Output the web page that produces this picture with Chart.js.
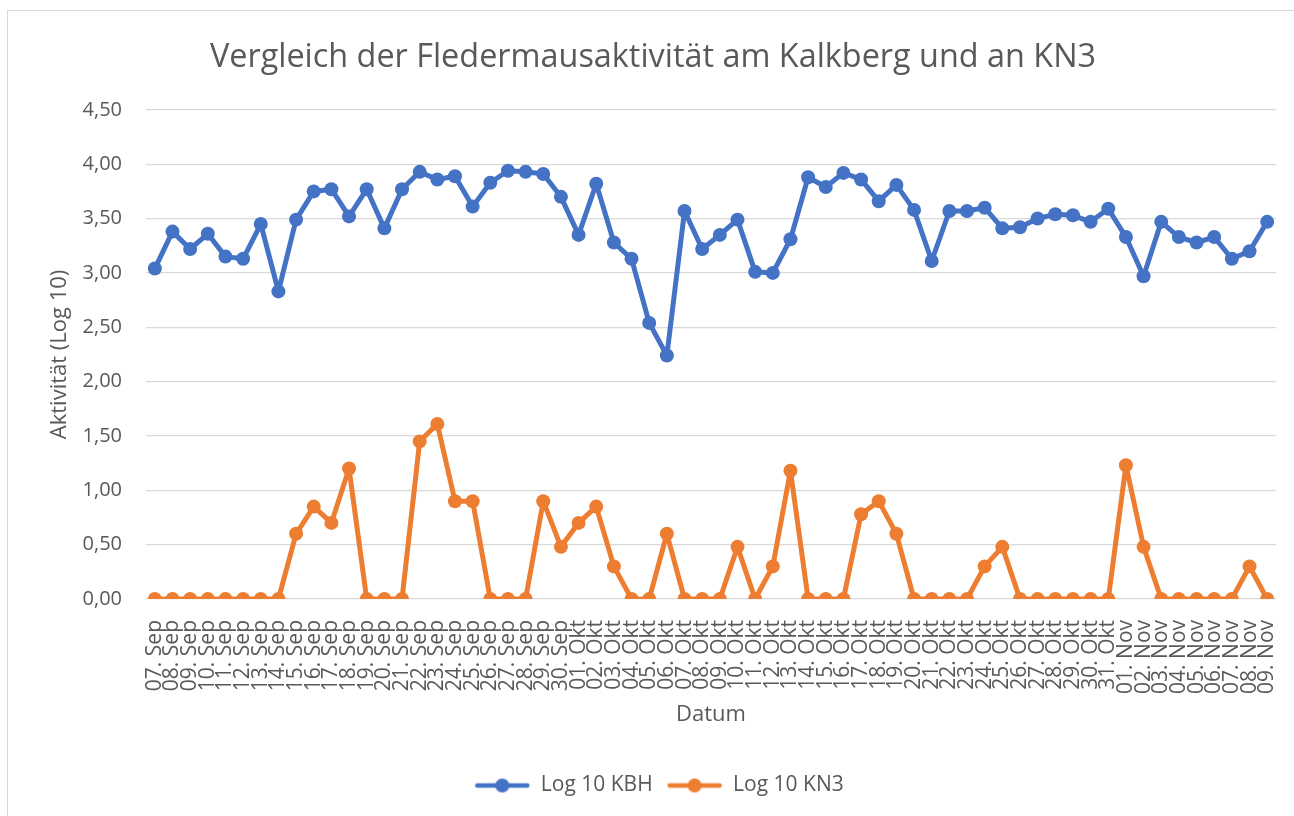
<!DOCTYPE html>
<html>
<head>
<meta charset="utf-8">
<script src="https://cdn.jsdelivr.net/npm/chart.js@4.4.0/dist/chart.umd.min.js"></script>
<style>
  html, body { margin: 0; padding: 0; background: #fff; }
  #frame {
    position: absolute; left: 7px; top: 10px;
    width: 1300px; height: 820px;
    border: 1px solid #d9d9d9;
  }
  #chart { position: absolute; left: 0; top: 0; }
</style>
</head>
<body>
<div id="frame"></div>
<canvas id="chart" width="1294" height="816"></canvas>
<script>
const dateLabels = [
  "07. Sep", "08. Sep", "09. Sep", "10. Sep", "11. Sep", "12. Sep", "13. Sep", "14. Sep",
  "15. Sep", "16. Sep", "17. Sep", "18. Sep", "19. Sep", "20. Sep", "21. Sep", "22. Sep",
  "23. Sep", "24. Sep", "25. Sep", "26. Sep", "27. Sep", "28. Sep", "29. Sep", "30. Sep",
  "01. Okt", "02. Okt", "03. Okt", "04. Okt", "05. Okt", "06. Okt", "07. Okt", "08. Okt",
  "09. Okt", "10. Okt", "11. Okt", "12. Okt", "13. Okt", "14. Okt", "15. Okt", "16. Okt",
  "17. Okt", "18. Okt", "19. Okt", "20. Okt", "21. Okt", "22. Okt", "23. Okt", "24. Okt",
  "25. Okt", "26. Okt", "27. Okt", "28. Okt", "29. Okt", "30. Okt", "31. Okt",
  "01. Nov", "02. Nov", "03. Nov", "04. Nov", "05. Nov", "06. Nov", "07. Nov", "08. Nov", "09. Nov",
];

// Log 10 KBH (Kalkberg)
const kbhValues = [
  3.04, 3.38, 3.22, 3.36, 3.15, 3.13, 3.45, 2.83, 3.49, 3.75, 3.77, 3.52, 3.77, 3.41, 3.77, 3.93,
  3.86, 3.89, 3.61, 3.83, 3.94, 3.93, 3.91, 3.70,
  3.35, 3.82, 3.28, 3.13, 2.54, 2.24, 3.57, 3.22, 3.35, 3.49, 3.01, 3.00, 3.31, 3.88, 3.79, 3.92,
  3.86, 3.66, 3.81, 3.58, 3.11, 3.57, 3.57, 3.60, 3.41, 3.42, 3.50, 3.54, 3.53, 3.47, 3.59,
  3.33, 2.97, 3.47, 3.33, 3.28, 3.33, 3.13, 3.20, 3.47,
];

// Log 10 KN3
const kn3Values = [
  0, 0, 0, 0, 0, 0, 0, 0, 0.60, 0.85, 0.70, 1.20, 0, 0, 0, 1.45,
  1.61, 0.90, 0.90, 0, 0, 0, 0.90, 0.48,
  0.70, 0.85, 0.30, 0, 0, 0.60, 0, 0, 0, 0.48, 0, 0.30, 1.18, 0, 0, 0,
  0.78, 0.90, 0.60, 0, 0, 0, 0, 0.30, 0.48, 0, 0, 0, 0, 0, 0,
  1.23, 0.48, 0, 0, 0, 0, 0, 0.30, 0,
];

const yTicks = [0, 0.5, 1, 1.5, 2, 2.5, 3, 3.5, 4, 4.5];

const blue = "#4472C4";
const orange = "#ED7D31";
const textColor = "#595959";
const fontFamily = "'Open Sans', 'Noto Sans', sans-serif";

// Legend symbol: short line with a dot in the middle
function legendSymbol(color) {
  const c = document.createElement("canvas");
  c.width = 56;
  c.height = 16;
  const g = c.getContext("2d");
  g.strokeStyle = color;
  g.lineWidth = 4.5;
  g.lineCap = "round";
  g.beginPath();
  g.moveTo(3, 8);
  g.lineTo(53, 8);
  g.stroke();
  g.fillStyle = color;
  g.beginPath();
  g.arc(28, 8, 7, 0, Math.PI * 2);
  g.fill();
  return c;
}
const symbols = [legendSymbol(blue), legendSymbol(orange)];

// Center the legend on the whole canvas instead of the padded area
const legendShift = {
  id: "legendShift",
  afterLayout(chart) {
    if (chart.legend) {
      chart.legend.left += 6;
      chart.legend.right += 6;
    }
  },
};

Chart.defaults.font.family = fontFamily;
Chart.defaults.color = textColor;

const ctx = document.getElementById("chart").getContext("2d");
new Chart(ctx, {
  type: "line",
  data: {
    labels: dateLabels,
    datasets: [
      {
        label: "Log 10 KBH",
        data: kbhValues,
        borderColor: blue,
        backgroundColor: blue,
        borderWidth: 5,
        borderJoinStyle: "round",
        borderCapStyle: "round",
        pointRadius: 7,
        pointBorderWidth: 0,
        tension: 0,
      },
      {
        label: "Log 10 KN3",
        data: kn3Values,
        borderColor: orange,
        backgroundColor: orange,
        borderWidth: 5,
        borderJoinStyle: "round",
        borderCapStyle: "round",
        pointRadius: 7,
        pointBorderWidth: 0,
        tension: 0,
      },
    ],
  },
  options: {
    responsive: false,
    animation: false,
    devicePixelRatio: 1,
    layout: {
      padding: { left: 30, right: 18, top: 0, bottom: 10 },
    },
    scales: {
      x: {
        offset: true,
        grid: { display: false },
        border: { display: false },
        ticks: {
          autoSkip: false,
          maxRotation: 90,
          minRotation: 90,
          padding: 13,
          color: textColor,
          font: { size: 21 },
        },
        title: {
          display: true,
          text: "Datum",
          color: textColor,
          font: { size: 22 },
          padding: { top: 0, bottom: 33 },
        },
        afterFit: function (scale) {
          scale.height = 162;
          // the rotated end labels sit inside the offset band, no extra room needed
          scale.paddingLeft = 0;
          scale.paddingRight = 0;
        },
      },
      y: {
        min: 0,
        max: 4.5,
        afterBuildTicks: function (scale) {
          scale.ticks = yTicks.map((v) => ({ value: v }));
        },
        grid: {
          color: "#d9d9d9",
          lineWidth: 1.3,
          drawTicks: false,
        },
        border: { display: false },
        ticks: {
          padding: 24,
          color: textColor,
          font: { size: 20 },
          callback: function (value) {
            return value.toFixed(2).replace(".", ",");
          },
        },
        title: {
          display: true,
          text: "Aktivität (Log 10)",
          color: textColor,
          font: { size: 22 },
          padding: { top: 17, bottom: 0 },
        },
        afterFit: function (scale) {
          scale.width = 116;
        },
      },
    },
    plugins: {
      title: {
        display: true,
        text: "Vergleich der Fledermausaktivität am Kalkberg und an KN3",
        color: textColor,
        font: { size: 32.4, weight: "normal" },
        padding: { top: 38, bottom: 33 },
      },
      legend: {
        position: "bottom",
        labels: {
          usePointStyle: true,
          pointStyleWidth: 56,
          boxHeight: 16,
          padding: 14,
          color: textColor,
          font: { size: 21 },
          generateLabels: function (chart) {
            const items = Chart.defaults.plugins.legend.labels.generateLabels(chart);
            items.forEach((item, i) => {
              item.pointStyle = symbols[i];
            });
            return items;
          },
        },
      },
      tooltip: { enabled: false },
    },
  },
  plugins: [legendShift],
});
</script>
</body>
</html>
